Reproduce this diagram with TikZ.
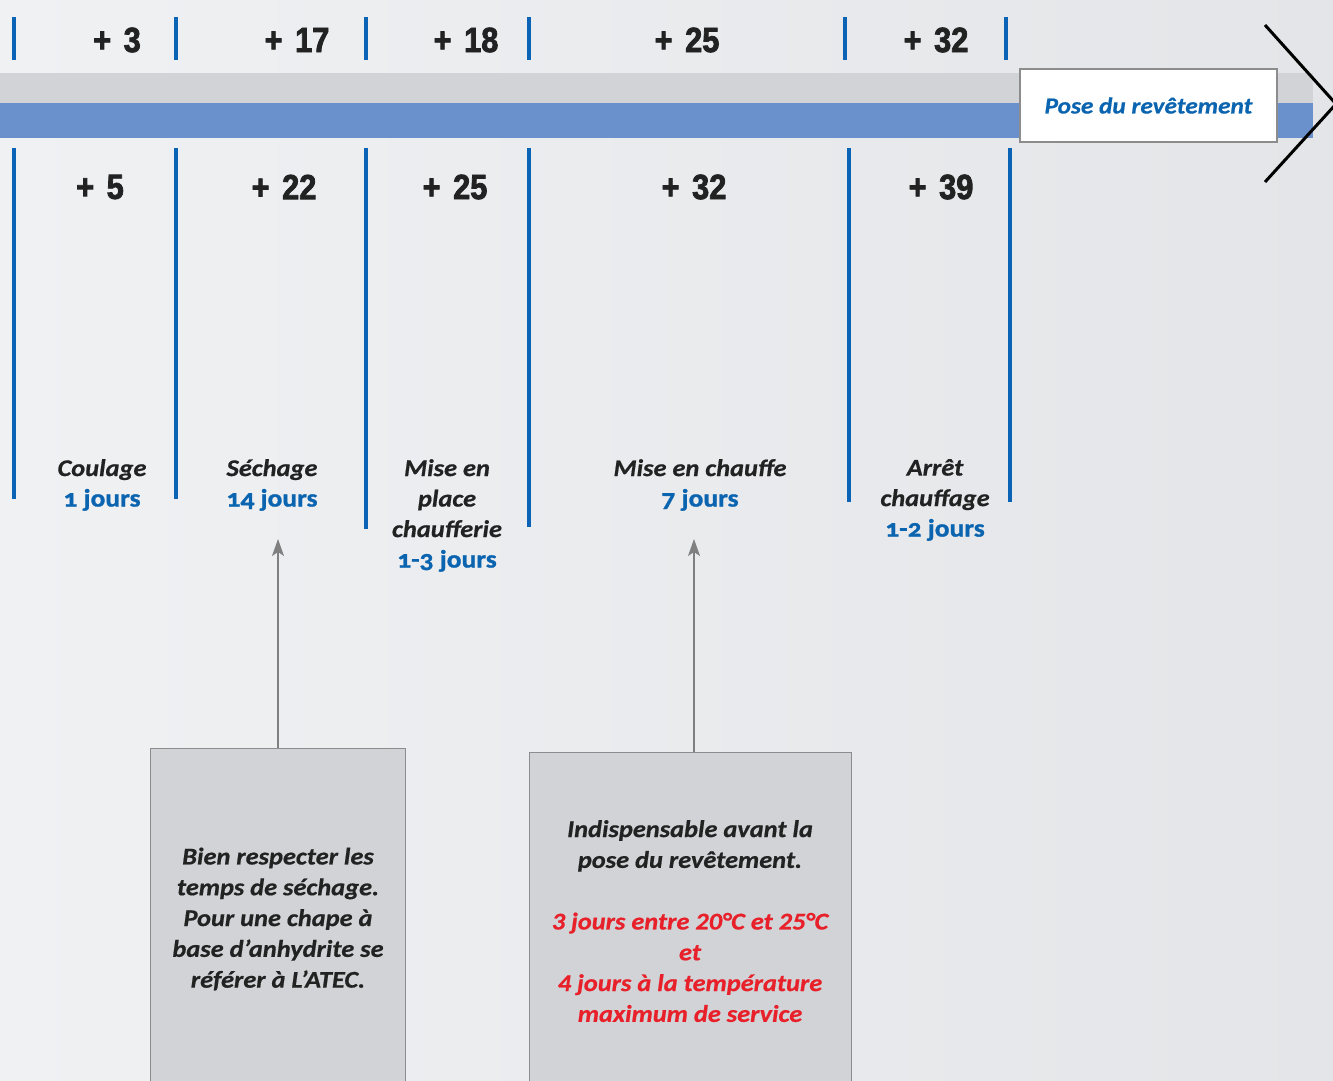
\documentclass[tikz,border=0pt]{standalone}
\usepackage{fontspec}
\setmainfont{Carlito}[ItalicFeatures={FakeStretch=1.1}, BoldItalicFeatures={FakeStretch=1.1,FakeBold=0.6}]
\newfontfamily\numfont[FakeStretch=0.88,FakeBold=2.2]{Liberation Sans}
\newfontfamily\daysfont[Numbers=OldStyle,FakeStretch=1.1,FakeBold=1]{Carlito}
\usetikzlibrary{arrows.meta}
\definecolor{bgL}{HTML}{EFF1F3}
\definecolor{bgR}{HTML}{E3E5E8}
\definecolor{bandgray}{HTML}{D1D3D6}
\definecolor{bandblue}{HTML}{6A91CB}
\definecolor{tickblue}{HTML}{0B63B5}
\definecolor{txtblue}{HTML}{0A64B0}
\definecolor{boxgray}{HTML}{D1D3D6}
\definecolor{boxedge}{HTML}{8C8C8C}
\definecolor{arrgray}{HTML}{808080}
\definecolor{txtred}{HTML}{E8202A}
\definecolor{txtdark}{HTML}{222222}
\tikzset{
  tick/.style={draw=tickblue, line width=3.5pt},
  num/.style={font=\numfont\bfseries\fontsize{35}{40}\selectfont, text=txtdark, inner sep=0pt},
  phase/.style={font=\bfseries\itshape\fontsize{24}{30.5}\selectfont, text=txtdark, align=center, anchor=north, inner sep=0pt},
  note/.style={draw=boxedge, line width=1.2pt, fill=boxgray},
  notetext/.style={font=\bfseries\itshape\fontsize{24}{30.8}\selectfont, text=txtdark, align=center, inner sep=0pt},
  pointer/.style={draw=arrgray, line width=1.5pt, -{Stealth[length=17pt,width=12pt,inset=4pt]}},
}
\newcommand{\days}[1]{{\color{txtblue}\upshape\mdseries\daysfont\bfseries\fontsize{25}{30.5}\selectfont #1}}
\begin{document}
\begin{tikzpicture}[x=1pt,y=-1pt]
\useasboundingbox (0,0) rectangle (1333,1080);
\shade[left color=bgL, right color=bgR] (0,0) rectangle (1333,1080);
% bands
\fill[bandgray] (0,73) rectangle (1313,103);
\fill[bandblue] (0,103) rectangle (1313,138);
% chevron
\draw[black, line width=3pt] (1265,25) -- (1336,104) -- (1265,182);
% end box
\node[draw=boxedge, fill=white, line width=1.2pt, minimum width=257pt, minimum height=73pt, inner sep=0pt,
      font=\bfseries\itshape\fontsize{23}{26}\selectfont, text=txtblue] (pose) at (1148.5,105.5) {Pose du revêtement};
% top ticks
\foreach \x in {14,176,366,529,845,1006} \draw[tick] (\x,17) -- (\x,60);
% top numbers
\node[num] (t1) at (117,40) {+\hspace{4pt} 3};
\node[num] (t2) at (297,40) {+\hspace{4pt} 17};
\node[num] (t3) at (466,40) {+\hspace{4pt} 18};
\node[num] (t4) at (687,40) {+\hspace{4pt} 25};
\node[num] (t5) at (936,40) {+\hspace{4pt} 32};
% bottom ticks
\draw[tick] (14,148) -- (14,499);
\draw[tick] (176,148) -- (176,499);
\draw[tick] (366,148) -- (366,529);
\draw[tick] (529,148) -- (529,527);
\draw[tick] (849,148) -- (849,502);
\draw[tick] (1010,148) -- (1010,502);
% bottom numbers
\node[num] (b1) at (100,187) {+\hspace{4pt} 5};
\node[num] (b2) at (284,187) {+\hspace{4pt} 22};
\node[num] (b3) at (455,187) {+\hspace{4pt} 25};
\node[num] (b4) at (694,187) {+\hspace{4pt} 32};
\node[num] (b5) at (941,187) {+\hspace{4pt} 39};
% phases
\node[phase] (p1) at (102,459) {Coulage\\\days{1 jours}};
\node[phase] (p2) at (272,459) {Séchage\\\days{14 jours}};
\node[phase] (p3) at (447,459) {Mise en\\place\\chaufferie\\\days{1-3 jours}};
\node[phase] (p4) at (700,459) {Mise en chauffe\\\days{7 jours}};
\node[phase] (p5) at (935,459) {Arrêt\\chauffage\\\days{1-2 jours}};
% note boxes
\node[note, minimum width=255pt, minimum height=340pt, anchor=north west, inner sep=0pt] (n1) at (150,748) {};
\node[note, minimum width=322pt, minimum height=340pt, anchor=north west, inner sep=0pt] (n2) at (529,752) {};
\node[notetext] (n1t) at (278,919) {Bien respecter les\\temps de séchage.\\Pour une chape à\\base d’anhydrite se\\référer à L’ATEC.};
\node[notetext, anchor=north] (n2t) at (690,820) {Indispensable avant la\\pose du revêtement.\\[30.8pt]\color{txtred}3 jours entre 20°C et 25°C\\\color{txtred}et\\\color{txtred}4 jours à la température\\\color{txtred}maximum de service};
% pointers
\coordinate (a1) at (278,539);
\coordinate (a2) at (694,539);
\draw[pointer] (n1.north -| a1) -- (a1);
\draw[pointer] (n2.north -| a2) -- (a2);
\end{tikzpicture}
\end{document}
